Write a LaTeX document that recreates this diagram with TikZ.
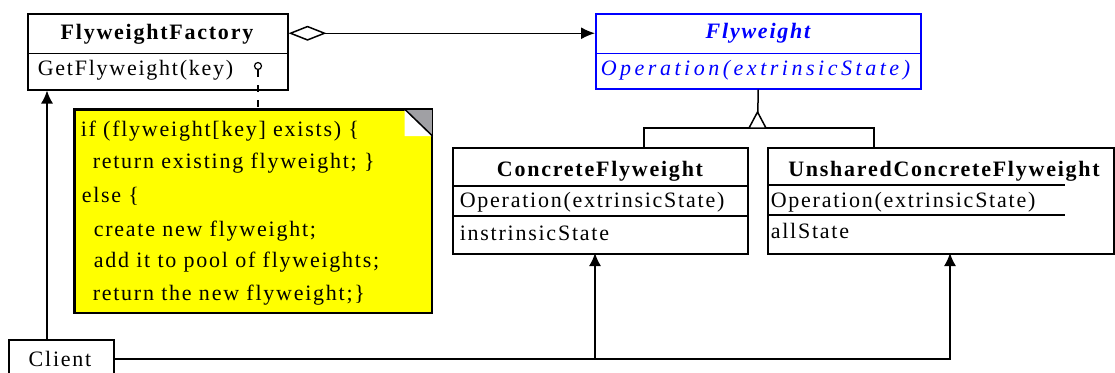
\documentclass[tikz,border=0pt]{standalone}
\usepackage{fontspec}
\setmainfont{Liberation Serif}
\newfontfamily\umlfont[LetterSpace=8]{Liberation Serif}
\newfontfamily\umlwide[LetterSpace=16]{Liberation Serif}
\usetikzlibrary{arrows.meta}
\definecolor{notey}{RGB}{255,255,0}
\definecolor{foldgrey}{RGB}{160,160,164}
\definecolor{umlblue}{RGB}{0,0,255}
\begin{document}
\begin{tikzpicture}[x=1pt,y=-1pt, line width=1.5pt,
  box/.style={draw, rectangle, inner sep=0pt, anchor=north west},
  reg/.style={inner sep=0pt, font=\umlfont\fontsize{22}{26}\selectfont},
  bold/.style={inner sep=0pt, font=\umlfont\bfseries\fontsize{22}{26}\selectfont},
  blueit/.style={inner sep=0pt, text=umlblue, font=\umlwide\itshape\fontsize{22}{26}\selectfont},
  bluebi/.style={inner sep=0pt, text=umlblue, font=\umlfont\bfseries\itshape\fontsize{22}{26}\selectfont},
  notetxt/.style={inner sep=0pt, anchor=base west, font=\umlfont\fontsize{22}{26}\selectfont},
  filled/.style={-{Latex[length=13pt,width=12pt]}}
]
\useasboundingbox (0,0) rectangle (1115,372);

% FlyweightFactory
\node[box, minimum width=260pt, minimum height=76pt] (ff) at (27,13) {};
\node[box, draw=none, minimum width=260pt, minimum height=39pt] (ffT) at (27,13) {};
\draw (ffT.south west) -- (ffT.south east);
\node[bold, anchor=base] (ffN) at (157,39) {FlyweightFactory};
\node[reg, anchor=base west] (ffOp) at (37,75) {GetFlyweight(key)};

% Flyweight
\node[box, draw=umlblue, minimum width=325pt, minimum height=75pt] (fw) at (595,13) {};
\node[box, draw=none, minimum width=325pt, minimum height=39pt] (fwT) at (595,13) {};
\draw[umlblue] (fwT.south west) -- (fwT.south east);
\node[bluebi, anchor=base] (fwN) at (758,38) {Flyweight};
\node[blueit, anchor=base west] (fwOp) at (600,75) {Operation(extrinsicState)};

% ConcreteFlyweight
\node[box, minimum width=295pt, minimum height=106pt] (cf) at (452,147) {};
\draw (cf.north west) ++(0,39) -- ++(295,0);
\draw (cf.north west) ++(0,69) -- ++(295,0);
\node[bold, anchor=base] (cfN) at (600,176) {ConcreteFlyweight};
\node[reg, anchor=base west] (cfOp) at (459,207) {Operation(extrinsicState)};
\node[reg, anchor=base west] (cfSt) at (459,240) {instrinsicState};

% UnsharedConcreteFlyweight
\node[box, minimum width=346pt, minimum height=106pt] (ucf) at (767,147) {};
\draw (ucf.north west) ++(0,38) -- ++(298,0);
\draw (ucf.north west) ++(0,68) -- ++(298,0);
\node[bold, anchor=base] (ucfN) at (944,176) {UnsharedConcreteFlyweight};
\node[reg, anchor=base west] (ucfOp) at (770,207) {Operation(extrinsicState)};
\node[reg, anchor=base west] (ucfSt) at (770,238) {allState};

% Client
\node[box, minimum width=105pt, minimum height=38pt] (client) at (8,339) {};
\node[reg, anchor=base] (clientN) at (60,366) {Client};

% Note
\node[box, fill=notey, minimum width=357pt, minimum height=203pt] (note) at (74,109) {};
\fill[foldgrey] (note.north east) -- ++(-28,0) -- ++(28,27) -- cycle;
\fill[white] (note.north east) ++(-28,0) -- ++(0,27) -- ++(28,0) -- cycle;
\draw (note.north east) ++(-28,0) -- ++(28,27);
\draw (note.north west) rectangle (note.south east);
\node[notetxt] (n1) at (80,136) {if (flyweight[key] exists) \{};
\node[notetxt] (n2) at (92,168) {return existing flyweight; \}};
\node[notetxt] (n3) at (81,202) {else \{};
\node[notetxt] (n4) at (93,236) {create new flyweight;};
\node[notetxt] (n5) at (93,267) {add it to pool of flyweights;};
\node[notetxt] (n6) at (92,300) {return the new flyweight;\}};

% note anchor (lollipop)
\node[draw, circle, minimum size=7pt, inner sep=0pt, line width=1.2pt] (lp) at (258,66) {};
\draw[dash pattern=on 7pt off 8pt] (lp.south) -- (lp.south |- note.north);

% aggregation
\draw[{Diamond[open,length=38pt,width=15pt]}-{Latex[length=14pt,width=12pt]}] (ffT.east) -- (fwT.west);

% inheritance
\coordinate (j) at (757.5,128);
\coordinate (cfT) at (644,147);
\coordinate (ucfT) at (874,147);
\draw (fw.south) -- (j);
\draw (cfT) |- (j) -| (ucfT);
\draw[fill=white] (j) ++(-8.5,0) -- ++(8.5,-16) -- ++(8.5,16) -- cycle;

% client associations
\coordinate (c1) at (47,339);
\coordinate (cfB) at (595,253);
\coordinate (ucfB) at (950,253);
\draw[filled] (c1) -- (c1 |- ff.south);
\draw[filled] (client.east) -| (ucfB);
\draw[filled] (client.east -| cfB) -- (cfB);
\end{tikzpicture}
\end{document}
